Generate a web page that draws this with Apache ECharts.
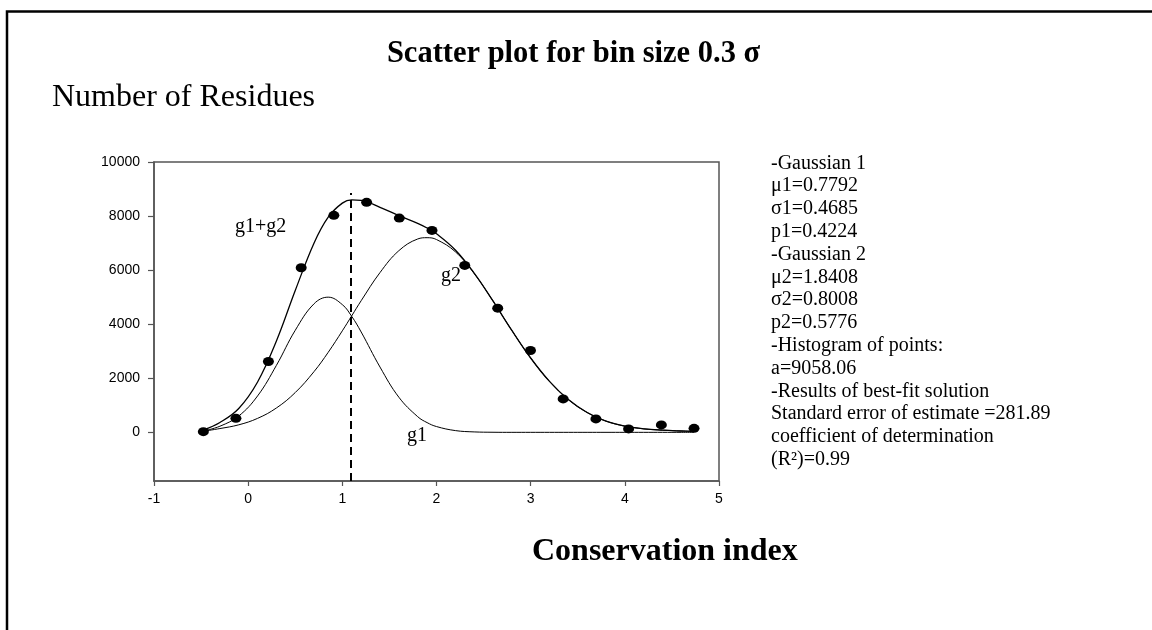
<!DOCTYPE html>
<html>
<head>
<meta charset="utf-8">
<title>Scatter plot for bin size 0.3 σ</title>
<script src="https://cdn.jsdelivr.net/npm/echarts@6/dist/echarts.min.js"></script>
<style>
  html, body { margin: 0; padding: 0; background: #fff; }
  #chart { width: 1152px; height: 630px; }
</style>
</head>
<body>
<div id="chart"></div>
<script>
// histogram of points: bin centres and number of residues
const binX = [-0.476, -0.13, 0.215, 0.563, 0.91, 1.258, 1.605, 1.952, 2.30, 2.65, 2.998, 3.345, 3.693, 4.04, 4.388, 4.735];
const binCount = [26, 519, 2619, 6089, 8026, 8507, 7926, 7470, 6174, 4593, 3026, 1236, 496, 126, 274, 148];

// fitted curves
const curveX = [-0.476, -0.3, -0.1, 0.1, 0.3, 0.5, 0.7, 0.85, 1.0, 1.1, 1.2, 1.4, 1.6, 1.8, 1.9,
  2.0, 2.2, 2.4, 2.6, 2.8, 3.0, 3.2, 3.4, 3.6, 3.8, 4.0, 4.2, 4.4, 4.6, 4.735];
const g1 = [50, 226, 606, 1347, 2478, 3775, 4757, 5000, 4724, 4288, 3712, 2415, 1300, 580, 360,
  214, 65, 16, 3, 0, 0, 0, 0, 0, 0, 0, 0, 0, 0, 0];
const g2 = [40, 140, 278, 517, 901, 1472, 2249, 2960, 3755, 4311, 4869, 5910, 6719, 7152, 7200,
  7132, 6680, 5876, 4856, 3770, 2750, 1884, 1213, 733, 416, 230, 130, 80, 50, 35];
const g1g2 = [90, 366, 884, 1864, 3379, 5247, 7006, 7960, 8479, 8599, 8581, 8325, 8019, 7732, 7560,
  7346, 6745, 5892, 4859, 3770, 2750, 1884, 1213, 733, 416, 230, 130, 80, 50, 35];

// dashed separator
const cutX = 1.09;
const cutTop = 8850;

const yTicks = [0, 2000, 4000, 6000, 8000, 10000];

const curveLabels = [
  { text: 'g1+g2', x: -0.14, y: 7596 },
  { text: 'g2', x: 2.047, y: 5804 },
  { text: 'g1', x: 1.686, y: -122 }
];

const fitText = [
  '-Gaussian 1',
  'μ1=0.7792',
  'σ1=0.4685',
  'p1=0.4224',
  '-Gaussian 2',
  'μ2=1.8408',
  'σ2=0.8008',
  'p2=0.5776',
  '-Histogram of points:',
  'a=9058.06',
  '-Results of best-fit solution',
  'Standard error of estimate =281.89',
  'coefficient of determination',
  '(R²)=0.99'
];

const serif = "'Liberation Serif', 'Times New Roman', serif";
const sans = "'Liberation Sans', Arial, sans-serif";

const zip = (xs, ys) => xs.map((x, i) => [x, ys[i]]);

const chart = echarts.init(document.getElementById('chart'));

const curve = (name, data, width) => ({
  name,
  type: 'line',
  data: zip(curveX, data),
  smooth: 0.4,
  showSymbol: false,
  silent: true,
  lineStyle: { color: '#000', width },
  z: 2
});

const option = {
  animation: false,
  backgroundColor: '#fff',
  grid: {
    left: 154, top: 162, width: 565, height: 319,
    show: true, borderColor: '#555', borderWidth: 1.5
  },
  xAxis: {
    type: 'value', min: -1, max: 5, interval: 1,
    splitLine: { show: false },
    axisLine: { onZero: false, lineStyle: { color: '#555', width: 1.5 } },
    axisTick: { length: 5, lineStyle: { color: '#555', width: 1.2 } },
    axisLabel: { color: '#000', fontFamily: sans, fontSize: 14, margin: 11 }
  },
  yAxis: {
    type: 'value', min: -1800, max: 10000,
    splitLine: { show: false },
    axisLine: { show: true, onZero: false, lineStyle: { color: '#555', width: 1.5 } },
    axisTick: { show: true, length: 6, customValues: yTicks, lineStyle: { color: '#555', width: 1.2 } },
    axisLabel: {
      color: '#000', fontFamily: sans, fontSize: 14, margin: 14, customValues: yTicks,
      formatter: v => String(v)
    }
  },
  series: [
    curve('g1', g1, 1),
    curve('g2', g2, 1),
    Object.assign(curve('g1+g2', g1g2, 1.3), {
      markLine: {
        silent: true,
        symbol: 'none',
        label: { show: false },
        lineStyle: { color: '#000', width: 2, type: [8, 5] },
        data: [[{ coord: [cutX, -1800] }, { coord: [cutX, cutTop] }]]
      }
    }),
    {
      name: 'histogram',
      type: 'scatter',
      data: zip(binX, binCount),
      symbol: 'circle',
      symbolSize: [11, 9],
      itemStyle: { color: '#000', opacity: 1 },
      z: 3
    }
  ]
};

chart.setOption(option);

// text pieces placed as graphics
const graphics = [
  {
    type: 'polyline',
    shape: { points: [[7, 630], [7, 11.5], [1152, 11.5]] },
    style: { stroke: '#000', lineWidth: 2.5, fill: null }
  },
  {
    type: 'text', x: 573.5, y: 53.7,
    style: { text: 'Scatter plot for bin size 0.3 σ', font: 'bold 30.5px ' + serif, fill: '#000', align: 'center', verticalAlign: 'middle' }
  },
  {
    type: 'text', x: 52, y: 97.5,
    style: { text: 'Number of Residues', font: '32px ' + serif, fill: '#000', align: 'left', verticalAlign: 'middle' }
  },
  {
    type: 'text', x: 532, y: 552,
    style: { text: 'Conservation index', font: 'bold 32px ' + serif, fill: '#000', align: 'left', verticalAlign: 'middle' }
  },
  {
    type: 'text', x: 771, y: 152,
    style: { text: fitText.join('\n'), font: '20px ' + serif, lineHeight: 22.8, fill: '#000', align: 'left', verticalAlign: 'top' }
  }
];

curveLabels.forEach(l => {
  const p = chart.convertToPixel({ gridIndex: 0 }, [l.x, l.y]);
  graphics.push({
    type: 'text', x: p[0], y: p[1],
    style: { text: l.text, font: '20px ' + serif, fill: '#000', align: 'left', verticalAlign: 'middle' }
  });
});

chart.setOption({ graphic: graphics });
</script>
</body>
</html>
